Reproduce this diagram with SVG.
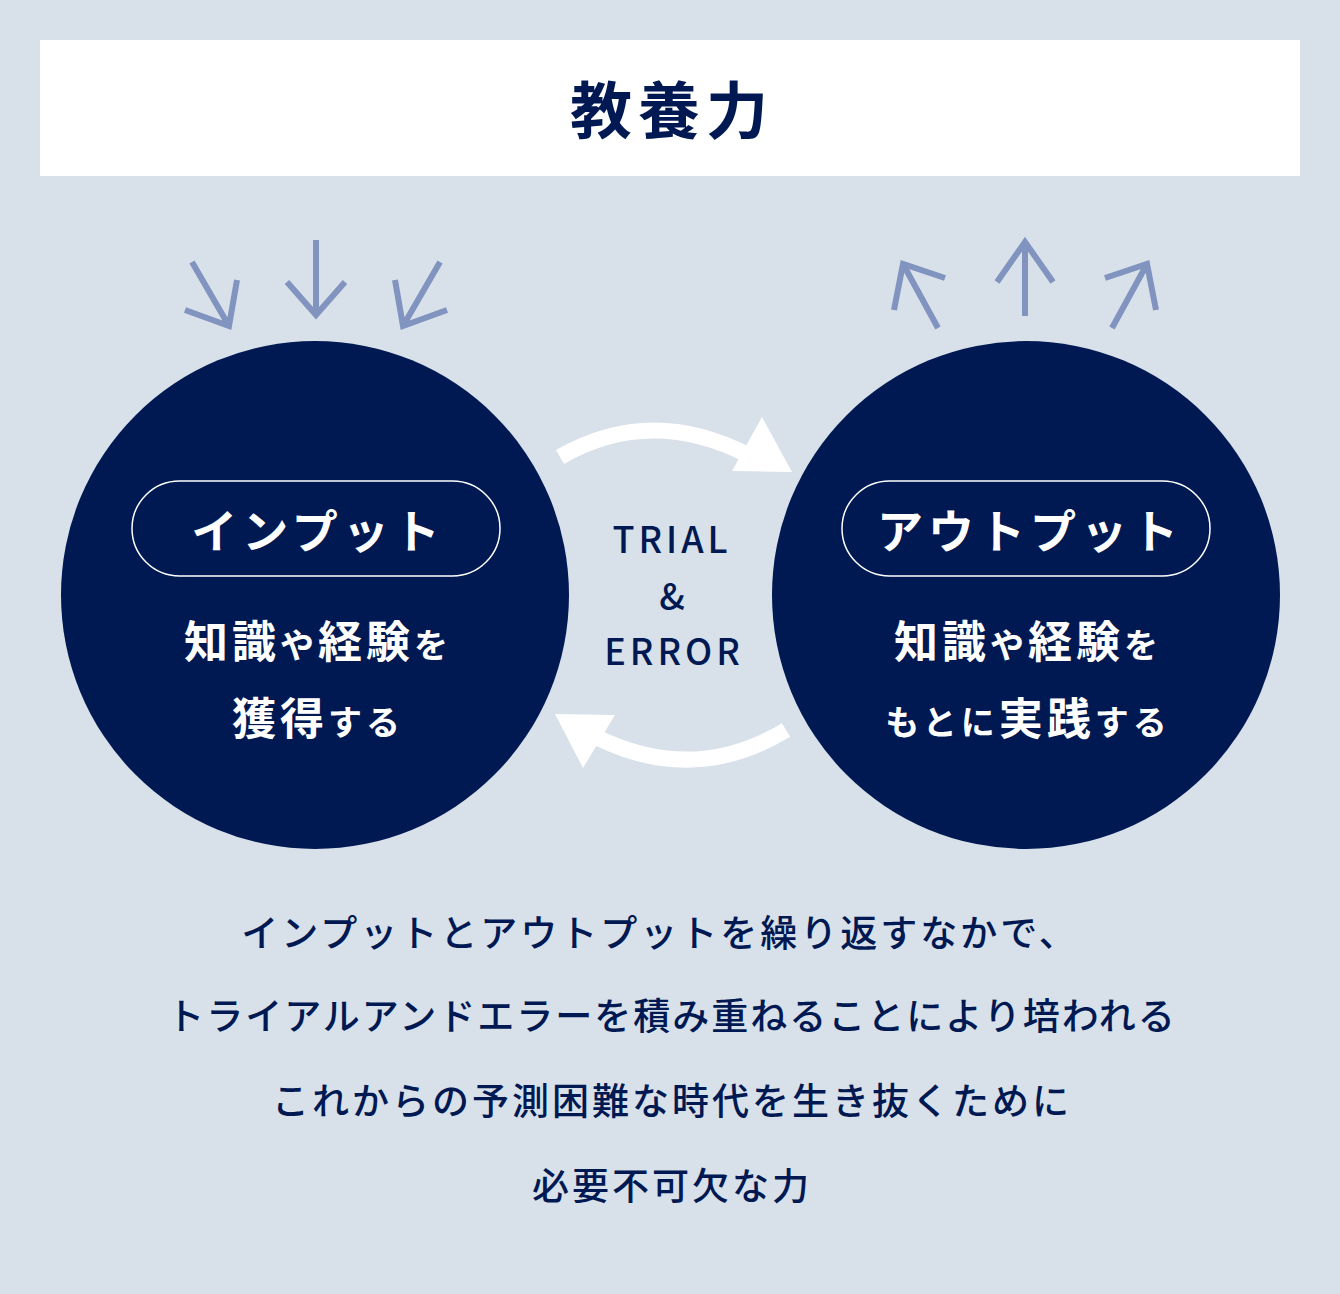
<svg xmlns="http://www.w3.org/2000/svg" width="1340" height="1294" viewBox="0 0 1340 1294">
<style>
.t{font-family:"Noto Sans CJK JP","Noto Sans",sans-serif;fill:#001952;text-anchor:middle}
.w{font-family:"Noto Sans CJK JP","Noto Sans",sans-serif;fill:#fff;text-anchor:middle;font-weight:700}
.a{fill:none;stroke:#8193bf;stroke-width:6}
.s{font-size:34px}
</style>
<rect width="1340" height="1294" fill="#d8e0ea"/>
<g id="title"><rect x="40" y="40" width="1260" height="136" fill="#fff"/>
<text class="t" x="672" y="134" font-size="62" font-weight="700" letter-spacing="6">教養力</text></g>
<g id="input"><circle cx="315" cy="595" r="254" fill="#001952"/>
<rect x="132" y="481" width="368" height="95" rx="47.5" fill="none" stroke="#fff" stroke-width="1.5"/>
<text class="w" x="318" y="548" font-size="46" letter-spacing="5">インプット</text>
<text class="w" x="318" y="658" font-size="44" letter-spacing="4">知識<tspan class="s">や</tspan>経験<tspan class="s">を</tspan></text>
<text class="w" x="318" y="735" font-size="44" letter-spacing="4">獲得<tspan class="s">する</tspan></text></g>
<g id="output"><circle cx="1026" cy="595" r="254" fill="#001952"/>
<rect x="842" y="481" width="368" height="95" rx="47.5" fill="none" stroke="#fff" stroke-width="1.5"/>
<text class="w" x="1030" y="548" font-size="46" letter-spacing="5">アウトプット</text>
<text class="w" x="1028" y="658" font-size="44" letter-spacing="4">知識<tspan class="s">や</tspan>経験<tspan class="s">を</tspan></text>
<text class="w" x="1028" y="735" font-size="44" letter-spacing="4"><tspan class="s">もとに</tspan>実践<tspan class="s">する</tspan></text></g>
<g id="trial"><text class="t" x="672" y="553" font-size="36" font-weight="500" letter-spacing="4">TRIAL</text>
<text class="t" x="672" y="610" font-size="36" font-weight="500">&amp;</text>
<text class="t" x="674" y="665" font-size="36" font-weight="500" letter-spacing="4">ERROR</text></g>
<g id="connectors">
<path d="M560,457 Q650,405 748,455" fill="none" stroke="#fff" stroke-width="16"/>
<polygon points="762,417 792,472 732,471" fill="#fff"/>
<path d="M786,730 Q695,785 598,738" fill="none" stroke="#fff" stroke-width="16"/>
<polygon points="555,714 615,715 583,768" fill="#fff"/>
<path class="a" d="M192,262L229,326M185,310L229,326L237,280"/>
<path class="a" d="M316,240V315M287,282L316,315L345,282"/>
<path class="a" d="M440,262L403,326M447,310L403,326L395,280"/>
<path class="a" d="M938,328L903,264M894,310L903,264L945,278"/>
<path class="a" d="M1025,316V242M997,282L1025,242L1053,282"/>
<path class="a" d="M1112,328L1147,264M1156,310L1147,264L1105,278"/>
</g>
<g id="caption" font-size="37" font-weight="500">
<text class="t" x="660" y="947" letter-spacing="3">インプットとアウトプットを繰り返すなかで、</text>
<text class="t" x="672" y="1030" letter-spacing="2">トライアルアンドエラーを積み重ねることにより培われる</text>
<text class="t" x="672" y="1115" letter-spacing="3">これからの予測困難な時代を生き抜くために</text>
<text class="t" x="672" y="1200" letter-spacing="3">必要不可欠な力</text>
</g>
</svg>
